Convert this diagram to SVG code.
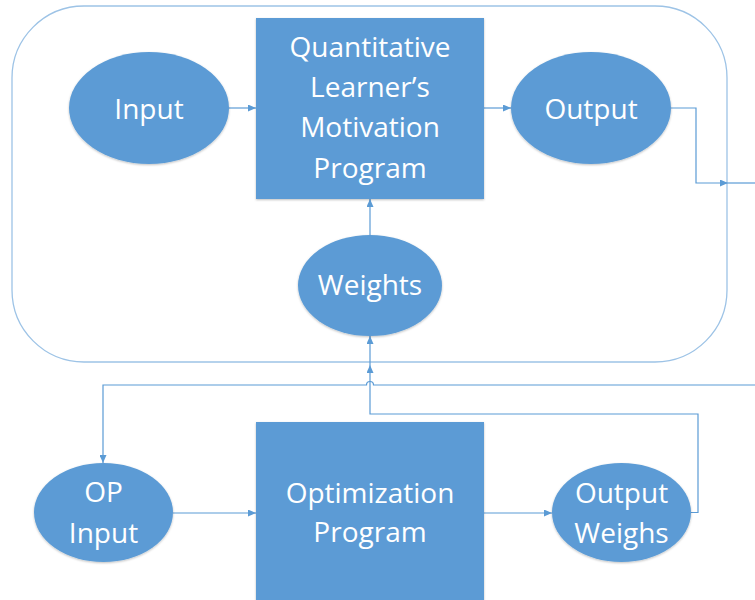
<svg xmlns="http://www.w3.org/2000/svg" width="755" height="600" viewBox="0 0 755 600">
  <style>
    .shape { fill: #5B9BD5; filter: url(#soft); }
    .label { fill: #FFFFFF; font-family: "Open Sans", "Liberation Sans", sans-serif; font-size: 28px; text-anchor: middle; }
    .wire { fill: none; stroke: #5B9BD5; stroke-width: 1.2; }
    .frame { fill: none; stroke: #9DC3E6; stroke-width: 1.3; }
  </style>
  <defs>
    <filter id="soft" x="-10%" y="-10%" width="120%" height="125%">
      <feDropShadow dx="0" dy="1" stdDeviation="0.8" flood-color="#000000" flood-opacity="0.25"/>
    </filter>
    <marker id="arrow" viewBox="0 0 8 7" refX="8" refY="3.5" markerWidth="8" markerHeight="7" markerUnits="userSpaceOnUse" orient="auto">
      <path d="M0,0 L8,3.5 L0,7 z" fill="#5B9BD5"/>
    </marker>
  </defs>

  <rect width="755" height="600" fill="#FFFFFF"/>

  <!-- container for the motivation program -->
  <rect id="container" class="frame" x="12" y="6" width="715" height="356" rx="72" ry="72"/>

  <!-- connectors -->
  <g id="connectors">
    <path class="wire" d="M229,108 H256" marker-end="url(#arrow)"/>
    <path class="wire" d="M484,108 H511" marker-end="url(#arrow)"/>
    <path class="wire" d="M370,235 V199" marker-end="url(#arrow)"/>
    <path class="wire" d="M671,108 H696 V183 H728" marker-end="url(#arrow)"/>
    <path class="wire" d="M728,183 H755"/>
    <path class="wire" d="M370,362 V336" marker-end="url(#arrow)"/>
    <path class="wire" d="M691,512.5 H698 V414 H370 V365" marker-end="url(#arrow)"/>
    <path class="wire" d="M370,365 V362"/>
    <path class="wire" d="M755,385 H373.5 A3.5,3.5 0 0 0 366.5,385 H103 V463" marker-end="url(#arrow)"/>
    <path class="wire" d="M173,513 H256" marker-end="url(#arrow)"/>
    <path class="wire" d="M484,513 H552" marker-end="url(#arrow)"/>
  </g>

  <g id="input">
    <ellipse class="shape" cx="149" cy="108" rx="80" ry="56"/>
    <text class="label" x="149" y="119">Input</text>
  </g>

  <g id="motivation-program">
    <rect class="shape" x="256" y="18" width="228" height="181"/>
    <text class="label" x="370" y="56.5">Quantitative</text>
    <text class="label" x="370" y="97">Learner’s</text>
    <text class="label" x="370" y="137.3">Motivation</text>
    <text class="label" x="370" y="177.5">Program</text>
  </g>

  <g id="output">
    <ellipse class="shape" cx="591" cy="108" rx="80" ry="56"/>
    <text class="label" x="591" y="119">Output</text>
  </g>

  <g id="weights">
    <ellipse class="shape" cx="370" cy="285.5" rx="72" ry="50.5"/>
    <text class="label" x="370" y="295">Weights</text>
  </g>

  <g id="op-input">
    <ellipse class="shape" cx="103.5" cy="512.5" rx="69.5" ry="49.5"/>
    <text class="label" x="103.5" y="502">OP</text>
    <text class="label" x="103.5" y="542.5">Input</text>
  </g>

  <g id="optimization-program">
    <rect class="shape" x="256" y="422" width="228" height="190"/>
    <text class="label" x="370" y="502.5">Optimization</text>
    <text class="label" x="370" y="542">Program</text>
  </g>

  <g id="output-weighs">
    <ellipse class="shape" cx="621.5" cy="512.5" rx="69.5" ry="49.5"/>
    <text class="label" x="621.5" y="502.5">Output</text>
    <text class="label" x="621.5" y="542.5">Weighs</text>
  </g>
</svg>
